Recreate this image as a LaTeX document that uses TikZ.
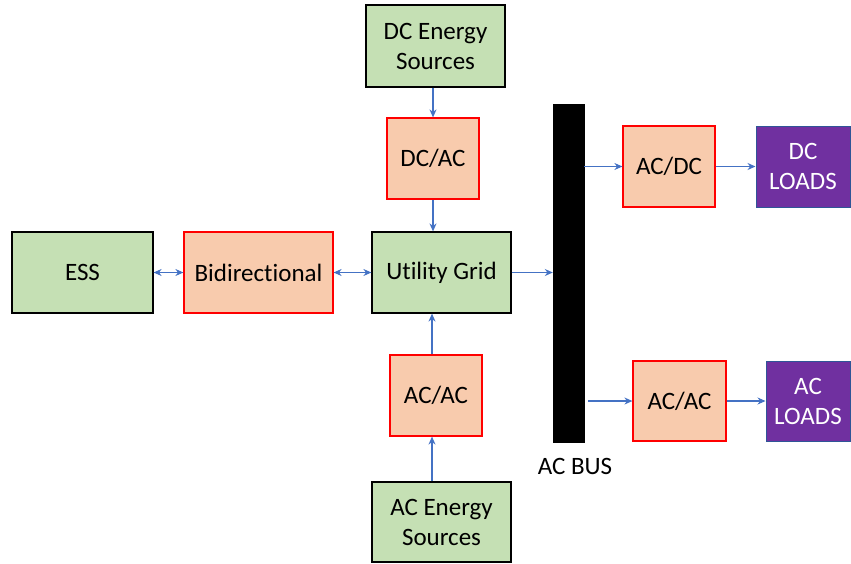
\documentclass[tikz,border=0pt]{standalone}
\usepackage{fontspec}
\setmainfont{Carlito}[Ligatures={NoCommon,NoRare,NoDiscretionary}]
\usetikzlibrary{arrows.meta}
\definecolor{srcgreen}{HTML}{C5E0B4}
\definecolor{convorange}{HTML}{F8CBAD}
\definecolor{loadpurple}{HTML}{7030A0}
\definecolor{linkblue}{HTML}{4472C4}
\definecolor{loadedge}{HTML}{2F5597}
\begin{document}
\begin{tikzpicture}[x=1pt, y=-1pt, >={Stealth[length=8pt,width=7pt]},
    source/.style={draw=black, line width=1.2pt, fill=srcgreen, align=center, font=\fontsize{25}{30}\selectfont},
    conv/.style={draw=red, line width=1.2pt, fill=convorange, align=center, font=\fontsize{25}{30}\selectfont},
    load/.style={draw=loadedge, line width=1pt, fill=loadpurple, text=white, align=center, font=\fontsize{25}{30}\selectfont},
    link/.style={draw=linkblue, line width=1.1pt}]
    \useasboundingbox (0,0) rectangle (851,563);
    % sources and grid
    \node[source, minimum width=139pt, minimum height=82pt] (dcsrc) at (435.5,46) {DC Energy\\Sources};
    \node[conv, minimum width=92pt, minimum height=81pt] (dcac) at (433,158.5) {DC/AC};
    \node[source, minimum width=141pt, minimum height=81pt] (ess) at (82.5,272.5) {ESS};
    \node[conv, minimum width=149pt, minimum height=81pt] (bidir) at (258.5,272.5) {Bidirectional};
    \node[source, minimum width=139pt, minimum height=81pt] (grid) at (441.5,272.5) {Utility Grid};
    \node[conv, minimum width=92pt, minimum height=81pt] (acacin) at (436,395.5) {AC/AC};
    \node[source, minimum width=139pt, minimum height=80pt] (acsrc) at (441.5,522) {AC Energy\\Sources};
    % bus
    \node[draw=black, fill=black, minimum width=31pt, minimum height=338pt, inner sep=0pt] (bus) at (568.5,273) {};
    \node[font=\fontsize{25}{30}\selectfont] (buslabel) at (575,466) {AC BUS};
    % loads
    \node[conv, minimum width=92pt, minimum height=81pt] (acdc) at (669,166.5) {AC/DC};
    \node[load, minimum width=94pt, minimum height=81pt] (dcload) at (803,166.5) {DC\\LOADS};
    \node[conv, minimum width=93pt, minimum height=80pt] (acacout) at (679.5,401) {AC/AC};
    \node[load, minimum width=84pt, minimum height=80pt] (acload) at (808,401) {AC\\LOADS};
    % connectors
    \draw[link, ->] (dcsrc.south -| dcac) -- (dcac.north);
    \draw[link, ->] (dcac.south) -- (dcac.south |- grid.north);
    \draw[link, <->] (ess.east) -- (bidir.west);
    \draw[link, <->] (bidir.east) -- (grid.west);
    \draw[link, ->] (grid.east) -- (grid.east -| bus.west);
    \draw[link, ->] (acacin.north -| 432,0) -- (grid.south -| 432,0);
    \draw[link, ->] (acsrc.north -| 432,0) -- (acacin.south -| 432,0);
    \draw[link, ->] (acdc.west -| bus.east) -- (acdc.west);
    \draw[link, ->] (acdc.east) -- (dcload.west);
    \draw[link, ->] ([xshift=4pt]acacout.west -| bus.east) -- (acacout.west);
    \draw[link, ->] (acacout.east) -- (acload.west);
\end{tikzpicture}
\end{document}
